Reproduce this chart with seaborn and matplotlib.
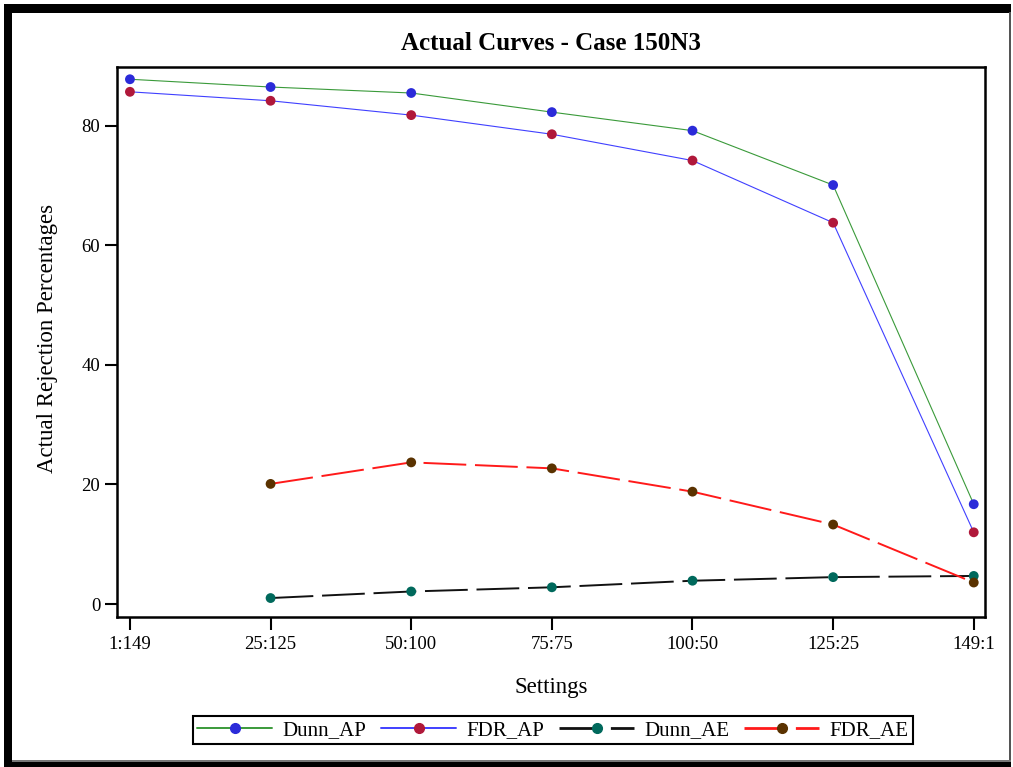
import numpy as np
import pandas as pd
import matplotlib
matplotlib.use("Agg")
import matplotlib.pyplot as plt
import seaborn as sns
from matplotlib.lines import Line2D
from matplotlib.patches import Rectangle

# ---- data ----
settings = ["1:149", "25:125", "50:100", "75:75", "100:50", "125:25", "149:1"]
dunn_ap = [87.8, 86.5, 85.5, 82.3, 79.2, 70.1, 16.7]
fdr_ap = [85.7, 84.2, 81.8, 78.6, 74.2, 63.8, 12.0]
dunn_ae = [np.nan, 1.0, 2.1, 2.8, 3.9, 4.5, 4.7]
fdr_ae = [np.nan, 20.1, 23.7, 22.7, 18.8, 13.3, 3.6]
series_names = ["Dunn_AP", "FDR_AP", "Dunn_AE", "FDR_AE"]

line_colors = {"Dunn_AP": "#3a9a3a", "FDR_AP": "#4040ff", "Dunn_AE": "#111111", "FDR_AE": "#ff1a1a"}
marker_colors = {"Dunn_AP": "#2b2bd9", "FDR_AP": "#b0183a", "Dunn_AE": "#00695c", "FDR_AE": "#5a3200"}
line_widths = {"Dunn_AP": 0.8, "FDR_AP": 0.8, "Dunn_AE": 1.4, "FDR_AE": 1.4}
dash_map = {"Dunn_AP": "", "FDR_AP": "", "Dunn_AE": (22, 4.5), "FDR_AE": (22, 4.5)}

idx = np.arange(len(settings))
frames = []
for name, vals in zip(series_names, [dunn_ap, fdr_ap, dunn_ae, fdr_ae]):
    frames.append(pd.DataFrame({"x": idx, "y": vals, "series": name}))
df = pd.concat(frames, ignore_index=True).dropna()

sns.set_theme(style="white")
plt.rcParams["font.family"] = ["Liberation Serif", "DejaVu Serif"]
plt.rcParams["text.color"] = "black"
plt.rcParams["axes.labelcolor"] = "black"

fig = plt.figure(figsize=(10.13, 7.67), dpi=100)
ax = fig.add_axes([117 / 1013, 1 - 617 / 767, (985 - 117) / 1013, (617 - 66.7) / 767])

for name in series_names:
    sub = df[df["series"] == name]
    kw = {}
    if dash_map[name]:
        kw["dashes"] = [dash_map[name]]
        kw["style"] = sub["series"]
    sns.lineplot(data=sub, x="x", y="y", ax=ax, color=line_colors[name],
                 linewidth=line_widths[name], legend=False, **kw)
    sns.scatterplot(data=sub, x="x", y="y", ax=ax, color=marker_colors[name],
                    s=50, edgecolor="none", legend=False, zorder=5)

ax.set_xlim(-0.092, 6.08)
ax.set_ylim(-2.17, 89.9)
ax.set_xticks(idx)
ax.set_xticklabels(settings)
ax.set_yticks([0, 20, 40, 60, 80])
ax.tick_params(axis="both", which="major", bottom=True, left=True, direction="out",
               length=9, width=1.5, labelsize=13.5, colors="black", pad=3)
ax.tick_params(axis="x", pad=5)
for sp in ax.spines.values():
    sp.set_linewidth(1.8)
    sp.set_color("black")
ax.set_xlabel("")
ax.set_ylabel("")

fig.text(0.5 * (117 + 985) / 1013, 1 - 43 / 767, "Actual Curves - Case 150N3",
         ha="center", va="center", fontsize=18, fontweight="bold")
fig.text(0.5 * (117 + 985) / 1013, 1 - 687 / 767, "Settings",
         ha="center", va="center", fontsize=16.5)
fig.text(47 / 1013, 1 - 338 / 767, "Actual Rejection Percentages",
         ha="center", va="center", fontsize=16.5, rotation=90)

handles = []
for name in series_names:
    ls = (0, (13.5, 5)) if dash_map[name] else "-"
    handles.append(Line2D([], [], color=line_colors[name], linewidth=line_widths[name] + 0.6,
                          linestyle=ls, marker="o", markersize=7,
                          markerfacecolor=marker_colors[name], markeredgecolor=marker_colors[name]))
leg = fig.legend(handles, series_names, loc="center", ncol=4,
                 bbox_to_anchor=(553 / 1013, 1 - 730 / 767), fontsize=15,
                 frameon=True, fancybox=False, edgecolor="black", framealpha=1,
                 handlelength=3.6, handletextpad=0.5, columnspacing=0.7,
                 borderpad=0.2, borderaxespad=0)
leg.get_frame().set_linewidth(1.5)

# outer frame
W, H = 1013, 767
def rect(x0, y0, x1, y1, color):
    fig.patches.append(Rectangle((x0 / W, 1 - y1 / H), (x1 - x0) / W, (y1 - y0) / H,
                                 transform=fig.transFigure, color=color, zorder=10,
                                 linewidth=0))
rect(4, 4, 1011, 12.5, "black")
rect(4, 4, 12.5, 763, "black")
rect(1009, 12, 1011, 763, "#555555")
rect(12, 759.5, 1011, 761.5, "#777777")
rect(4, 762, 1011, 767, "black")

fig.savefig("out.png", dpi=100)
